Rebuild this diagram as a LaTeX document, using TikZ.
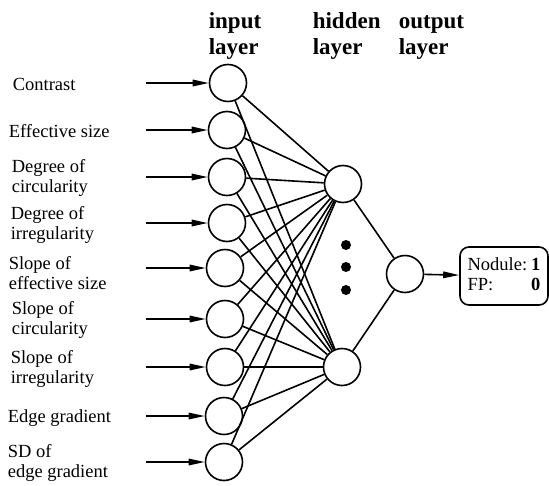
\documentclass[tikz,border=0pt]{standalone}
\usepackage{fontspec}
\setmainfont{Liberation Serif}
\usetikzlibrary{arrows.meta}
\def\neuron{\node[circle,draw,line width=1.6pt,minimum size=37pt,inner sep=0pt]}
\def\feature{\node[anchor=west,align=left,inner sep=0pt,font=\fontsize{18.5}{20}\selectfont]}
\def\heading{\node[anchor=north west,align=left,inner sep=0pt,font=\bfseries\fontsize{23}{26}\selectfont]}

\begin{document}
\begin{tikzpicture}[x=1pt,y=-1pt,line width=1.6pt,
  feed/.style={-{Triangle[length=16pt,width=6.5pt]}}]
\useasboundingbox (0,0) rectangle (549,485);

% layer titles
\heading (tin) at (208,12) {input\vphantom{hd}\\layer};
\heading (thid) at (312,12) {hidden\\layer};
\heading (tout) at (398,12) {output\vphantom{hd}\\layer};

% input units with their feed arrows
\foreach \n/\x/\y in {1/228/83, 2/227/130, 3/227/177, 4/227/223, 5/225/268,
                      6/225/319, 7/225/367, 8/224/416, 9/224/462} {
  \neuron (i\n) at (\x,\y) {};
  \coordinate (s\n) at (146,\y);
  \draw[feed] (s\n) -- (i\n);
}

% feature names
\feature (f1) at (12,84) {Contrast};
\feature (f2) at (8,131) {Effective size};
\feature (f3) at (11,178) {Degree of\\circularity};
\feature (f4) at (10,225) {Degree of\\irregularity};
\feature (f5) at (8,273) {Slope of\\effective size};
\feature (f6) at (11,320) {Slope of\\circularity};
\feature (f7) at (10,369) {Slope of\\irregularity};
\feature (f8) at (7,418) {Edge gradient};
\feature (f9) at (7,463) {SD of\\edge gradient};

% hidden and output units
\neuron (h1) at (343,184) {};
\neuron (h2) at (342,367) {};
\neuron (o) at (405,274) {};
\foreach \y in {245,267,290} \fill (346,\y) circle (5pt);

\foreach \n in {1,...,9} {
  \draw (i\n) -- (h1);
  \draw (i\n) -- (h2);
}
\draw (h1) -- (o);
\draw (h2) -- (o);

% result box
\node[draw,rounded corners=9pt,minimum width=88pt,minimum height=58pt,inner sep=2pt,
  font=\fontsize{18.5}{20}\selectfont] (res) at (504,276)
  {\begin{tabular}{@{}l@{\hspace{4pt}}r@{}}Nodule: & \textbf{1}\\FP: & \textbf{0}\end{tabular}};
\draw[feed] (o) -- (res);
\end{tikzpicture}
\end{document}
